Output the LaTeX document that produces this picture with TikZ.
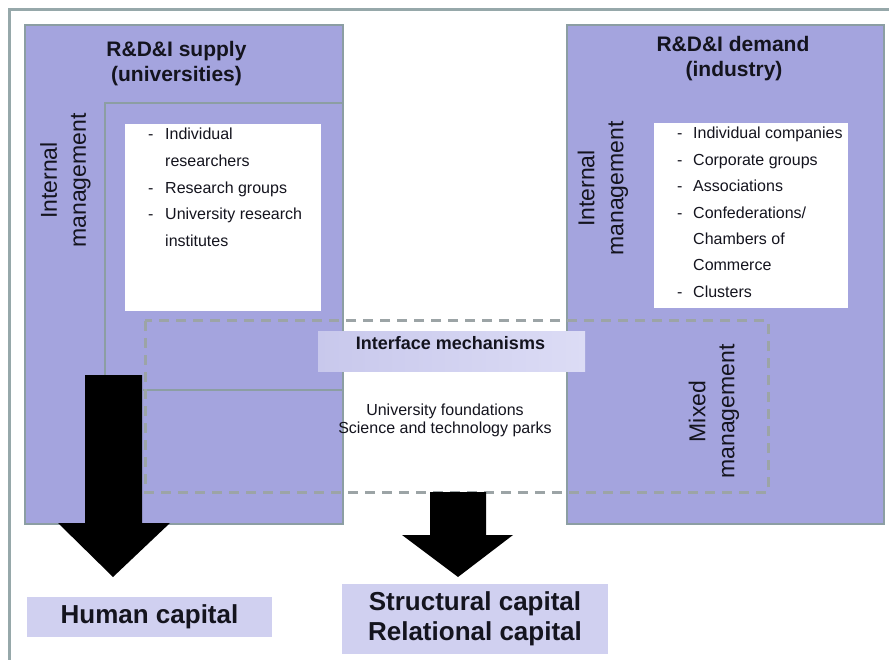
\documentclass[tikz,border=0pt]{standalone}
\usepackage{fontspec}
\setmainfont{Liberation Sans}
\definecolor{boxblue}{RGB}{164,164,222}
\definecolor{edge}{RGB}{140,158,163}
\definecolor{framec}{RGB}{150,168,170}
\definecolor{dashc}{RGB}{156,164,166}
\definecolor{lavL}{RGB}{200,200,236}
\definecolor{lavR}{RGB}{220,220,245}
\definecolor{capfill}{RGB}{208,208,240}
\definecolor{txt}{RGB}{20,20,30}
\begin{document}
\begin{tikzpicture}[x=1pt,y=-1pt,
  bigbox/.style={fill=boxblue, draw=edge, line width=2.4pt, anchor=north west, inner sep=0pt},
  whitebox/.style={fill=white, draw=none, anchor=north west, inner sep=0pt},
  capbox/.style={fill=capfill, draw=none, anchor=north west, inner sep=0pt},
  edgeline/.style={draw=edge, line width=2.4pt},
  dashbox/.style={draw=dashc, line width=3pt, dash pattern=on 10pt off 7pt},
  lst/.style={font=\fontsize{16}{19}\selectfont, text=txt, inner sep=0pt, anchor=base west},
  ttl/.style={font=\fontsize{21}{25}\selectfont\bfseries, text=txt, inner sep=0pt, anchor=base},
  side/.style={font=\fontsize{23}{29}\selectfont, text=txt, inner sep=0pt, rotate=90, align=center},
  mid/.style={font=\fontsize{16}{18}\selectfont, text=txt, inner sep=0pt, anchor=base},
  captxt/.style={font=\fontsize{26}{30}\selectfont\bfseries, text=txt, inner sep=0pt, anchor=base},
  blockarrow/.style={fill=black}
]
\useasboundingbox (0,0) rectangle (889,660);
\fill[white] (0,0) rectangle (889,660);
% outer frame (left and top only)
\draw[framec, line width=3pt] (9,660) -- (9,10) -- (889,10);

% big boxes
\node[bigbox, minimum width=318pt, minimum height=499pt] (supply) at (24,24) {};
\node[bigbox, minimum width=317pt, minimum height=499pt] (demand) at (566,24) {};

% inner structure lines of the supply box
\draw[edgeline] (105,523) -- (105,103) -- (342,103);
\draw[edgeline] (143,390) -- (342,390);

% white list boxes
\node[whitebox, minimum width=196pt, minimum height=187pt] (wl) at (125,124) {};
\node[whitebox, minimum width=194pt, minimum height=185pt] (wr) at (654,123) {};

% dashed interface region
\draw[dashbox] (145,321) rectangle (768,492);

% interface label box
\node[anchor=north west, inner sep=0pt, minimum width=267pt, minimum height=40pt,
      left color=lavL, right color=lavR] (ifbox) at (318,331) {};

% bottom capital boxes
\node[capbox, minimum width=245pt, minimum height=40pt] (human) at (27,597) {};
\node[capbox, minimum width=266pt, minimum height=70pt] (struct) at (342,584) {};

% block arrows
\fill[blockarrow] (85,375) -- (142,375) -- (142,523) -- (170,523) -- (113,577)
   -- (58,523) -- (85,523) -- cycle;
\fill[blockarrow] (430,492) -- (486,492) -- (486,535) -- (513,535) -- (458,577)
   -- (402,535) -- (430,535) -- cycle;

% titles
\node[ttl] (t1a) at (176.5,57) {R\&D\&I supply};
\node[ttl] (t1b) at (176.5,82) {(universities)};
\node[ttl] (t2a) at (733,52) {R\&D\&I demand};
\node[ttl] (t2b) at (734,77) {(industry)};

% side labels
\node[side] (im1) at (65.5,180.5) {Internal\\management};
\node[side] (im2) at (603,188.5) {Internal\\management};
\node[side] (mm) at (714,411.5) {Mixed\\management};

% left list
\node[lst] (d1) at (148,140) {-};
\node[lst] (l1) at (165,140) {Individual};
\node[lst] (l2) at (165,166.7) {researchers};
\node[lst] (d3) at (148,193.4) {-};
\node[lst] (l3) at (165,193.4) {Research groups};
\node[lst] (d4) at (148,220) {-};
\node[lst] (l4) at (165,220) {University research};
\node[lst] (l5) at (165,246.8) {institutes};

% right list
\node[lst] (e1) at (677,139) {-};
\node[lst] (r1) at (693,139) {Individual companies};
\node[lst] (e2) at (677,165.4) {-};
\node[lst] (r2) at (693,165.4) {Corporate groups};
\node[lst] (e3) at (677,191.8) {-};
\node[lst] (r3) at (693,191.8) {Associations};
\node[lst] (e4) at (677,218.2) {-};
\node[lst] (r4) at (693,218.2) {Confederations/};
\node[lst] (r5) at (693,244.6) {Chambers of};
\node[lst] (r6) at (693,271) {Commerce};
\node[lst] (e7) at (677,297.4) {-};
\node[lst] (r7) at (693,297.4) {Clusters};

% interface texts
\node[font=\fontsize{18}{21}\selectfont\bfseries, text=txt, inner sep=0pt, anchor=base] (ift) at (450.5,349) {Interface mechanisms};
\node[mid] (uf) at (445,415) {University foundations};
\node[mid] (sp) at (445,433) {Science and technology parks};

% capital texts
\node[captxt] (hc) at (149.5,623) {Human capital};
\node[captxt] (sc) at (475,610) {Structural capital};
\node[captxt] (rc) at (475,640) {Relational capital};
\end{tikzpicture}
\end{document}
